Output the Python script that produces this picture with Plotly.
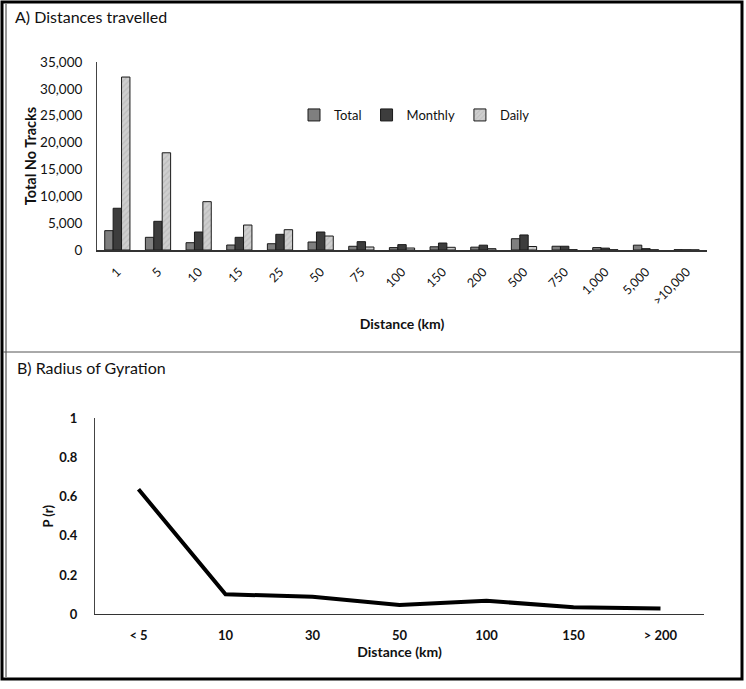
import plotly.graph_objects as go

W, H = 746, 689

# ---- Data: panel A ----
dist_cats = ["1", "5", "10", "15", "25", "50", "75", "100", "150", "200",
             "500", "750", "1,000", "5,000", ">10,000"]
total = [3600, 2360, 1360, 930, 1170, 1490, 690, 450, 600, 530, 2100, 700, 450, 900, 60]
monthly = [7770, 5340, 3350, 2360, 2920, 3350, 1550, 1000, 1300, 900, 2800, 700, 350, 250, 40]
daily = [32200, 18100, 9000, 4650, 3780, 2600, 560, 370, 500, 250, 650, 60, 50, 40, 20]
y_ticks_a = [0, 5000, 10000, 15000, 20000, 25000, 30000, 35000]

# ---- Data: panel B ----
rog_cats = ["< 5", "10", "30", "50", "100", "150", "> 200"]
rog_p = [0.638, 0.102, 0.090, 0.047, 0.069, 0.036, 0.029]
y_ticks_b = [0, 0.2, 0.4, 0.6, 0.8, 1]

FONT = "Lato"

def px_x(x):
    return x / W

def px_y(y):
    return 1 - y / H

fig = go.Figure()

line_col = "#1a1a1a"
fig.add_trace(go.Bar(x=dist_cats, y=total, name="Total", xaxis="x", yaxis="y",
                     marker=dict(color="#7f7f7f", line=dict(color=line_col, width=1))))
fig.add_trace(go.Bar(x=dist_cats, y=monthly, name="Monthly", xaxis="x", yaxis="y",
                     marker=dict(color="#3d3d3d", line=dict(color=line_col, width=1))))
fig.add_trace(go.Bar(x=dist_cats, y=daily, name="Daily", xaxis="x", yaxis="y",
                     marker=dict(color="#cfcfcf", line=dict(color=line_col, width=1),
                                 pattern=dict(shape="/", fgcolor="#a9a9a9", bgcolor="#cfcfcf",
                                              size=4, solidity=0.3))))

fig.add_trace(go.Scatter(x=rog_cats, y=rog_p, mode="lines", xaxis="x2", yaxis="y2",
                         line=dict(color="black", width=4), showlegend=False))

fig.update_layout(
    width=W, height=H,
    margin=dict(l=0, r=0, t=0, b=0, pad=0, autoexpand=False),
    paper_bgcolor="white", plot_bgcolor="white",
    font=dict(family=FONT, color="#111111", size=13),
    barmode="group", bargap=0.38, bargroupgap=0,
    showlegend=True,
    legend=dict(orientation="h", x=px_x(294), y=px_y(115), xanchor="left", yanchor="middle",
                font=dict(size=13, family=FONT), bgcolor="rgba(0,0,0,0)", itemwidth=30),
    xaxis=dict(domain=[px_x(97), px_x(707)], anchor="y", type="category", automargin=False,
               showline=True, linecolor="#333333", linewidth=1.5, ticks="",
               tickangle=-45, tickfont=dict(size=12.5), showgrid=False, ticklabelstandoff=8,
               title=dict(text="<b>Distance (km)</b>", font=dict(size=14), standoff=12)),
    yaxis=dict(domain=[px_y(250), px_y(62)], anchor="x", range=[0, 35000], automargin=False,
               tickvals=y_ticks_a, tickformat=",", showline=True, linecolor="#444444",
               linewidth=1, ticks="", showgrid=False, zeroline=False, ticklabelstandoff=11,
               tickfont=dict(size=13.5),
               title=dict(text="<b>Total No Tracks</b>", font=dict(size=14.5), standoff=0)),
    xaxis2=dict(domain=[px_x(95), px_x(704)], anchor="y2", type="category", automargin=False,
                range=[-0.5, 6.5],
                showline=True, linecolor="#333333", linewidth=1.2, ticks="",
                tickfont=dict(size=13), showgrid=False, ticklabelstandoff=9,
                tickvals=rog_cats, ticktext=["<b>%s</b>" % c for c in rog_cats],
                title=dict(text="<b>Distance (km)</b>", font=dict(size=14), standoff=4)),
    yaxis2=dict(domain=[px_y(614.3), px_y(418.3)], anchor="x2", range=[0, 1], automargin=False,
                tickvals=y_ticks_b, ticktext=["<b>%g</b>" % v for v in y_ticks_b],
                showline=True, linecolor="#444444", linewidth=1, ticks="",
                showgrid=False, zeroline=False, tickfont=dict(size=13), ticklabelstandoff=14,
                title=dict(text="<b>P (r)</b>", font=dict(size=13), standoff=2)),
)

# Panel titles
fig.add_annotation(text="A) Distances travelled", x=px_x(13), y=px_y(17), xref="paper", yref="paper",
                   xanchor="left", yanchor="middle", showarrow=False, font=dict(size=16, family=FONT))
fig.add_annotation(text="B) Radius of Gyration", x=px_x(15), y=px_y(367), xref="paper", yref="paper",
                   xanchor="left", yanchor="middle", showarrow=False, font=dict(size=16, family=FONT))

# Frame and separator
shapes = [
    dict(type="rect", xref="paper", yref="paper", x0=px_x(2), x1=px_x(742), y0=px_y(679), y1=px_y(2),
         line=dict(color="black", width=3)),
    dict(type="line", xref="paper", yref="paper", x0=px_x(6), x1=px_x(6), y0=px_y(677), y1=px_y(4),
         line=dict(color="#333333", width=1)),
    dict(type="line", xref="paper", yref="paper", x0=px_x(3), x1=px_x(741), y0=px_y(352), y1=px_y(352),
         line=dict(color="#555555", width=1)),
]
fig.update_layout(shapes=shapes)

fig.write_html(
    "out.html",
    config={"displayModeBar": False},
    post_script="document.body.style.margin='0';document.body.style.padding='0';"
                "document.body.style.overflow='hidden';",
)
